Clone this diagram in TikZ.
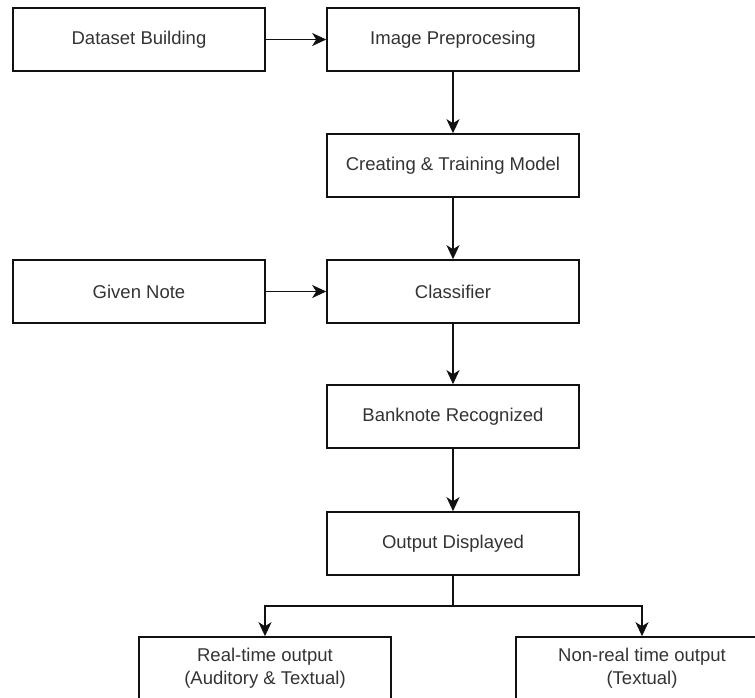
\documentclass[tikz,border=0pt]{standalone}
\usepackage{fontspec}
\setmainfont{Liberation Sans}
\usetikzlibrary{arrows.meta}
\definecolor{txt}{HTML}{333333}
\definecolor{ln}{HTML}{111111}
\begin{document}
\begin{tikzpicture}[x=1pt,y=-1pt,
  stagebox/.style={draw=ln, line width=1.6pt, minimum width=252pt, minimum height=63pt,
    inner sep=0pt, text=txt, font=\fontsize{18.5}{23}\selectfont, align=center},
  flow/.style={draw=ln, line width=1.6pt, -{Stealth[length=14pt,width=13pt,inset=4pt]}}]
\useasboundingbox (0,0) rectangle (755,697);
\clip (0,0) rectangle (755,697);

% pipeline stages
\node[stagebox] (ds) at (139,39.5)  {Dataset Building};
\node[stagebox] (ip) at (453,39.5)  {Image Preprocesing};
\node[stagebox] (ct) at (453,165.5) {Creating \& Training Model};
\node[stagebox] (gn) at (139,291.5) {Given Note};
\node[stagebox] (cl) at (453,291.5) {Classifier};
\node[stagebox] (br) at (453,416.5) {Banknote Recognized};
\node[stagebox] (od) at (453,543.5) {Output Displayed};
\node[stagebox] (rt) at (265,668.5) {Real-time output\\(Auditory \& Textual)};
\node[stagebox] (nr) at (642,668.5) {Non-real time output\\(Textual)};

% connectors
\draw[flow] (ds) -- (ip);
\draw[flow] (ip) -- (ct);
\draw[flow] (ct) -- (cl);
\draw[flow] (gn) -- (cl);
\draw[flow] (cl) -- (br);
\draw[flow] (br) -- (od);
\coordinate (split) at (453,606);
\draw[draw=ln, line width=1.6pt] (od.south) -- (split);
\draw[flow] (split) -| (rt.north);
\draw[flow] (split) -| (nr.north);
\end{tikzpicture}
\end{document}
